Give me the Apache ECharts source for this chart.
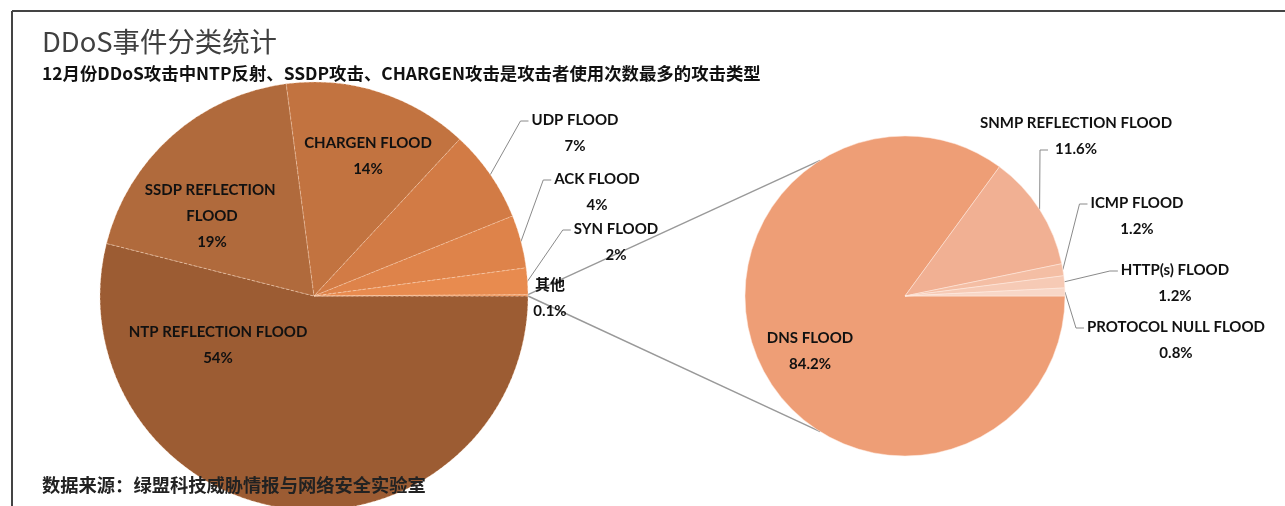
<!DOCTYPE html>
<html><head><meta charset="utf-8">
<script src="https://cdn.jsdelivr.net/npm/echarts@6/dist/echarts.min.js"></script>
<style>html,body{margin:0;padding:0;background:#fff}#c{width:1285px;height:506px}</style>
</head><body><div id="c"></div>
<script>
// ---------- data ----------
const mainCategories = ['NTP REFLECTION FLOOD','SSDP REFLECTION FLOOD','CHARGEN FLOOD','UDP FLOOD','ACK FLOOD','SYN FLOOD','其他'];
const mainValues = [54, 19, 14, 7, 4, 2, 0.1];
const otherCategories = ['DNS FLOOD','SNMP REFLECTION FLOOD','ICMP FLOOD','HTTP(s) FLOOD','PROTOCOL NULL FLOOD'];
const otherValues = [84.2, 11.6, 1.2, 1.2, 0.8];
const titleText = 'DDoS事件分类统计';
const subtitleText = '12月份DDoS攻击中NTP反射、SSDP攻击、CHARGEN攻击是攻击者使用次数最多的攻击类型';
const sourceText = '数据来源：绿盟科技威胁情报与网络安全实验室';

// ---------- style / layout ----------
const mainColors = ['#9C5C33','#B06A3C','#C27340','#D27B45','#DE834A','#E88B4F','#EF9356'];
const otherColors = ['#EE9E76','#F1B093','#F4BEA4','#F6CAB5','#F8D7C7'];
const mainCenter = [314, 296], mainRadius = 214;
const otherCenter = [905, 296], otherRadius = 160;
const connectorAngle = 122;
const insideNames = ['NTP REFLECTION FLOOD','SSDP REFLECTION FLOOD','CHARGEN FLOOD','DNS FLOOD'];
const noLineNames = ['其他'];
const secondLineAttach = ['SNMP REFLECTION FLOOD'];
const labelPos = {
  'NTP REFLECTION FLOOD': [218, 345],
  'SSDP REFLECTION FLOOD': [212, 216],
  'CHARGEN FLOOD': [368, 156],
  'UDP FLOOD': [575, 133],
  'ACK FLOOD': [597, 192],
  'SYN FLOOD': [616, 242],
  '其他': [550, 298],
  'DNS FLOOD': [810, 351],
  'SNMP REFLECTION FLOOD': [1076, 136],
  'ICMP FLOOD': [1137, 216],
  'HTTP(s) FLOOD': [1175, 283],
  'PROTOCOL NULL FLOOD': [1176, 340]
};
const LINE_H = 26;
const labelFont = 'Lato, "Noto Sans CJK SC", sans-serif';

function buildItems(names, values, colors) {
  return names.map(function (n, i) {
    const inside = insideNames.indexOf(n) >= 0;
    const item = {
      name: n, value: values[i],
      itemStyle: { color: colors[i] },
      label: { position: inside ? 'inside' : 'outside' },
      labelLine: { show: !inside && noLineNames.indexOf(n) < 0 }
    };
    if (n === 'SSDP REFLECTION FLOOD') { item.label.width = 155; item.label.overflow = 'break'; }
    return item;
  });
}

function makeLayout(names) {
  return function (p) {
    const name = names[p.dataIndex];
    const pos = labelPos[name];
    const w = p.labelRect.width, h = p.labelRect.height;
    const res = { x: pos[0], y: pos[1], align: 'center', verticalAlign: 'middle' };
    if (insideNames.indexOf(name) < 0 && noLineNames.indexOf(name) < 0 && p.labelLinePoints) {
      let left, yA;
      if (secondLineAttach.indexOf(name) >= 0) {
        left = pos[0] - 28;
        yA = pos[1] + LINE_H / 2 + 1;
      } else {
        left = pos[0] - w / 2 - 3;
        yA = pos[1] - h / 2 + LINE_H / 2 + 1;
      }
      res.labelLinePoints = [p.labelLinePoints[0], [left - 8, yA], [left, yA]];
    }
    return res;
  };
}

const labelCommon = {
  formatter: function (p) { return p.name + '\n' + p.value + '%'; },
  fontFamily: labelFont, fontWeight: 'bold', fontSize: 15, color: '#111',
  lineHeight: LINE_H, align: 'center'
};

// connector lines between the "其他" slice and the secondary pie
const sumMain = mainValues.reduce(function (a, b) { return a + b; }, 0);
const otherSpan = mainValues[mainValues.length - 1] / sumMain * 2 * Math.PI;
const rad = connectorAngle * Math.PI / 180;
const pTop = [mainCenter[0] + mainRadius * Math.cos(otherSpan), mainCenter[1] - mainRadius * Math.sin(otherSpan)];
const pBot = [mainCenter[0] + mainRadius, mainCenter[1]];
const qTop = [otherCenter[0] + otherRadius * Math.cos(rad), otherCenter[1] - otherRadius * Math.sin(rad)];
const qBot = [otherCenter[0] + otherRadius * Math.cos(rad), otherCenter[1] + otherRadius * Math.sin(rad)];

const chart = echarts.init(document.getElementById('c'), null, { renderer: 'canvas' });
chart.setOption({
  animation: false,
  backgroundColor: '#fff',
  title: [
    { text: titleText, left: 37, top: 23,
      textStyle: { fontFamily: '"Noto Sans CJK SC", sans-serif', fontSize: 27.4, fontWeight: 'normal', color: '#404040' } },
    { text: subtitleText, left: 37, top: 60,
      textStyle: { fontFamily: '"Noto Sans CJK SC", sans-serif', fontSize: 17.4, fontWeight: 'bold', color: '#111' } },
    { text: sourceText, left: 37, top: 471, z: 10,
      textStyle: { fontFamily: '"Noto Sans CJK SC", sans-serif', fontSize: 18.3, fontWeight: 'bold', color: '#222' } }
  ],
  graphic: [
    { type: 'line', shape: { x1: 12, y1: 11, x2: 1285, y2: 11 }, style: { stroke: '#444', lineWidth: 2 } },
    { type: 'line', shape: { x1: 12, y1: 11, x2: 12, y2: 506 }, style: { stroke: '#444', lineWidth: 2 } },
    { type: 'line', shape: { x1: pTop[0], y1: pTop[1], x2: qTop[0], y2: qTop[1] }, style: { stroke: '#999', lineWidth: 1.4 } },
    { type: 'line', shape: { x1: pBot[0], y1: pBot[1], x2: qBot[0], y2: qBot[1] }, style: { stroke: '#999', lineWidth: 1.4 } }
  ],
  series: [
    {
      type: 'pie', center: mainCenter, radius: mainRadius, startAngle: 0, clockwise: true,
      avoidLabelOverlap: false, silent: true,
      itemStyle: { borderColor: 'rgba(255,225,200,0.45)', borderWidth: 1, borderType: [3, 2] },
      label: labelCommon,
      labelLine: { lineStyle: { color: '#8a8a8a', width: 1 } },
      labelLayout: makeLayout(mainCategories),
      data: buildItems(mainCategories, mainValues, mainColors)
    },
    {
      type: 'pie', center: otherCenter, radius: otherRadius, startAngle: 0, clockwise: true,
      avoidLabelOverlap: false, silent: true,
      itemStyle: { borderColor: 'rgba(255,235,225,0.5)', borderWidth: 1 },
      label: labelCommon,
      labelLine: { lineStyle: { color: '#8a8a8a', width: 1 } },
      labelLayout: makeLayout(otherCategories),
      data: buildItems(otherCategories, otherValues, otherColors)
    }
  ]
});
</script>
</body></html>
